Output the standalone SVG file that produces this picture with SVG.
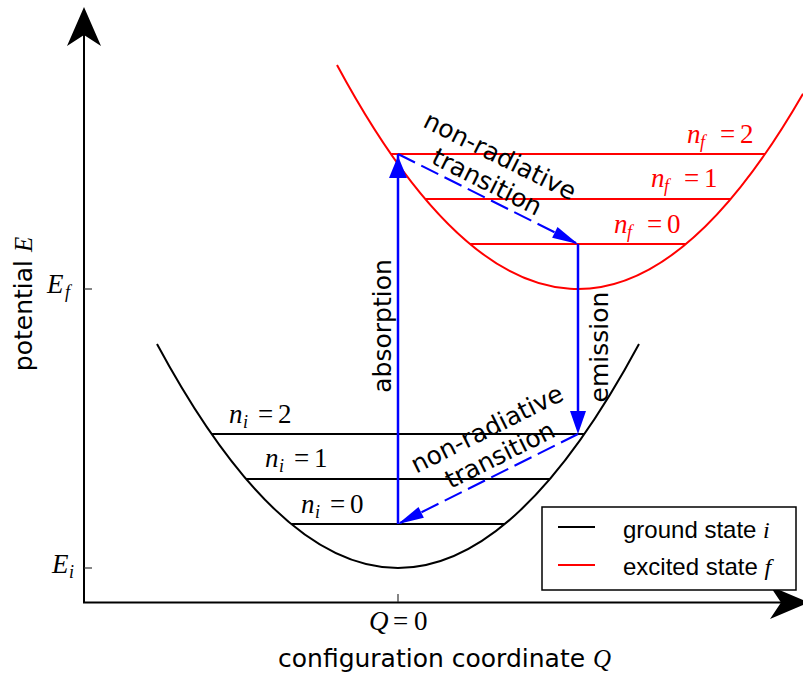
<svg xmlns="http://www.w3.org/2000/svg" width="803" height="675" viewBox="0 0 803 675">
<style>
.ax{stroke:#000;stroke-width:2;fill:none}
.tick{stroke:#333;stroke-width:1.2}
.gs{stroke:#000;stroke-width:2;fill:none}
.es{stroke:#f00;stroke-width:2;fill:none}
.tr{stroke:#00f;stroke-width:2.5;fill:none}
.dash{stroke:#00f;stroke-width:2;fill:none;stroke-dasharray:19 7}
.head{fill:#00f;stroke:none}
.lbl{font-family:"DejaVu Sans",sans-serif;font-size:25px;fill:#000}
.leg{font-family:"Liberation Sans",Arial,sans-serif;font-size:24px;fill:#000}
.mi{font-family:"Liberation Serif",serif;font-style:italic}
.mr{font-family:"Liberation Serif",serif;font-style:normal}
.math{font-family:"Liberation Serif",serif;font-size:27px}
.sub{font-size:18px;font-style:italic}
</style>
<rect width="803" height="675" fill="#fff"/>
<g id="axes">
<line class="ax" x1="84" y1="30" x2="84" y2="603"/>
<line class="ax" x1="83" y1="602.5" x2="785" y2="602.5"/>
<polygon points="84,7 101,46 84,35 67,46" fill="#000"/>
<polygon points="809,602.5 770,619 781,602.5 770,586" fill="#000"/>
<line class="tick" x1="84" y1="289" x2="92" y2="289"/>
<line class="tick" x1="84" y1="568" x2="92" y2="568"/>
<line class="tick" x1="398" y1="594" x2="398" y2="602"/>
</g>
<g id="ground-state">
<path class="gs" d="M157,344 Q398,792 639,344"/>
<line class="gs" x1="212" y1="434" x2="584" y2="434"/>
<line class="gs" x1="246" y1="479" x2="550" y2="479"/>
<line class="gs" x1="291" y1="524" x2="505" y2="524"/>
</g>
<g id="excited-state">
<path class="es" d="M337,65 Q570,498.2 803,93.7"/>
<line class="es" x1="391" y1="154" x2="765" y2="154"/>
<line class="es" x1="425" y1="199" x2="731" y2="199"/>
<line class="es" x1="470" y1="244" x2="686" y2="244"/>
</g>
<g id="connectors">
<line class="tr" x1="398" y1="524" x2="398" y2="154"/>
<polygon class="head" points="398,156 389,178 407,178"/>
<line class="tr" x1="578" y1="244" x2="578" y2="412"/>
<polygon class="head" points="578,434 570,411 586,411"/>
<line class="dash" x1="398" y1="154" x2="576" y2="243"/>
<polygon class="head" points="578,244 552.1,237.8 557.5,227"/>
<line class="dash" x1="578" y1="434" x2="400" y2="523"/>
<polygon class="head" points="398,524 423.9,517.8 418.5,507"/>
</g>
<g id="labels">
<text class="lbl" transform="translate(32,304) rotate(-90)" text-anchor="middle">potential <tspan class="mi">E</tspan></text>
<text class="lbl" x="278" y="667">configuration coordinate <tspan class="mi">Q</tspan></text>
<text class="lbl" transform="translate(391,326) rotate(-90)" text-anchor="middle">absorption</text>
<text class="lbl" transform="translate(608,347) rotate(-90)" text-anchor="middle">emission</text>
<g transform="translate(494,168) rotate(26.57)">
<text class="lbl" x="0" y="-5" text-anchor="middle">non-radiative</text>
<text class="lbl" x="0" y="24" text-anchor="middle">transition</text>
</g>
<g transform="translate(493,441) rotate(-26.57)">
<text class="lbl" x="0" y="-5" text-anchor="middle">non-radiative</text>
<text class="lbl" x="0" y="24" text-anchor="middle">transition</text>
</g>
<text class="math" y="293"><tspan class="mi" x="47">E</tspan><tspan class="sub" x="65" dy="5">f</tspan></text>
<text class="math" y="573"><tspan class="mi" x="52">E</tspan><tspan class="sub" x="69" dy="5">i</tspan></text>
<text class="math" y="630"><tspan class="mi" x="369">Q</tspan><tspan class="mr" x="393">=</tspan><tspan class="mr" x="414">0</tspan></text>
<g fill="#f00">
<text class="math" y="143"><tspan class="mi" x="687">n</tspan><tspan class="sub" x="700" dy="5">f</tspan><tspan class="mr" x="720" dy="-5">=</tspan><tspan class="mr" x="740">2</tspan></text>
<text class="math" y="187"><tspan class="mi" x="651">n</tspan><tspan class="sub" x="664" dy="5">f</tspan><tspan class="mr" x="684" dy="-5">=</tspan><tspan class="mr" x="704">1</tspan></text>
<text class="math" y="233"><tspan class="mi" x="614">n</tspan><tspan class="sub" x="627" dy="5">f</tspan><tspan class="mr" x="647" dy="-5">=</tspan><tspan class="mr" x="667">0</tspan></text>
</g>
<text class="math" y="423"><tspan class="mi" x="229">n</tspan><tspan class="sub" x="243" dy="5">i</tspan><tspan class="mr" x="258" dy="-5">=</tspan><tspan class="mr" x="278">2</tspan></text>
<text class="math" y="467"><tspan class="mi" x="265">n</tspan><tspan class="sub" x="279" dy="5">i</tspan><tspan class="mr" x="294" dy="-5">=</tspan><tspan class="mr" x="314">1</tspan></text>
<text class="math" y="513"><tspan class="mi" x="301">n</tspan><tspan class="sub" x="315" dy="5">i</tspan><tspan class="mr" x="330" dy="-5">=</tspan><tspan class="mr" x="350">0</tspan></text>
</g>
<g id="legend">
<rect x="542" y="507" width="254" height="83" fill="#fff" stroke="#000" stroke-width="1.5"/>
<line x1="558" y1="527" x2="595" y2="527" stroke="#000" stroke-width="2"/>
<line x1="558" y1="565" x2="595" y2="565" stroke="#f00" stroke-width="2"/>
<text class="leg" x="623" y="538">ground state <tspan class="mi">i</tspan></text>
<text class="leg" x="623" y="575">excited state <tspan class="mi">f</tspan></text>
</g>
</svg>
